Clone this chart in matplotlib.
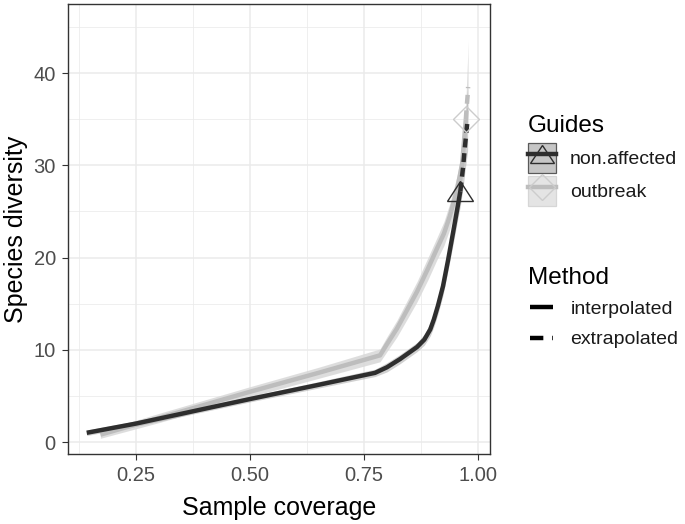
import matplotlib
matplotlib.use("Agg")
import matplotlib.pyplot as plt
from matplotlib.lines import Line2D
from matplotlib.patches import Rectangle
from matplotlib.markers import MarkerStyle
from matplotlib.transforms import Affine2D

plt.rcParams['font.family'] = ['Liberation Sans', 'DejaVu Sans']

# ---- data: non.affected ----
na_int_x = [0.142, 0.25, 0.40, 0.50, 0.65, 0.774, 0.80, 0.829, 0.866, 0.882, 0.895, 0.903, 0.912, 0.923, 0.934, 0.945, 0.954, 0.961]
na_int_y = [1.0, 2.0, 3.6, 4.66, 6.2, 7.5, 8.1, 9.0, 10.3, 11.1, 12.2, 13.3, 14.8, 16.9, 19.7, 22.7, 25.2, 27.2]
na_int_lo = [0.7, 1.7, 3.3, 4.35, 5.85, 7.1, 7.6, 8.5, 9.8, 10.5, 11.5, 12.5, 13.9, 15.9, 18.6, 21.4, 23.8, 25.6]
na_int_hi = [1.3, 2.3, 3.9, 4.95, 6.55, 7.9, 8.6, 9.5, 10.8, 11.7, 12.9, 14.1, 15.7, 17.9, 20.8, 24.0, 26.6, 28.8]
na_ext_x = [0.961, 0.967, 0.971, 0.977]
na_ext_y = [27.2, 29.8, 32.0, 35.0]
na_ext_lo = [25.6, 27.6, 29.3, 31.6]
na_ext_hi = [28.8, 32.0, 34.7, 38.4]
na_obs = (0.961, 27.2)

# ---- data: outbreak ----
ob_int_x = [0.172, 0.30, 0.50, 0.65, 0.785, 0.80, 0.822, 0.843, 0.866, 0.89, 0.91, 0.925, 0.938, 0.954, 0.965, 0.973]
ob_int_y = [0.8, 2.6, 5.45, 7.5, 9.4, 10.6, 12.3, 14.2, 16.3, 18.8, 21.0, 22.6, 24.5, 27.4, 30.2, 35.0]
ob_int_lo = [0.4, 2.1, 4.9, 6.9, 8.7, 9.8, 11.4, 13.2, 15.2, 17.6, 19.8, 21.3, 23.1, 25.9, 28.6, 33.2]
ob_int_hi = [1.2, 3.1, 6.0, 8.1, 10.1, 11.4, 13.2, 15.2, 17.4, 20.0, 22.2, 23.9, 25.9, 28.9, 31.8, 36.8]
ob_ext_x = [0.973, 0.975, 0.977, 0.978]
ob_ext_y = [35.0, 36.4, 37.6, 38.5]
ob_ext_lo = [33.2, 33.6, 33.9, 34.0]
ob_ext_hi = [36.8, 39.4, 41.8, 43.6]
ob_obs = (0.973, 35.0)

groups = ["non.affected", "outbreak"]
methods = ["interpolated", "extrapolated"]

dark = "#2e2e2e"
light = "#bdbdbd"
dark_fill = "#9a9a9a"
light_fill = "#d8d8d8"

fig = plt.figure(figsize=(6.85, 5.24), dpi=100)
ax = fig.add_axes([68/685, 70/524, 422/685, 450/524])

# ribbons
ax.fill_between(ob_int_x, ob_int_lo, ob_int_hi, color=light_fill, lw=0, alpha=0.85, zorder=2)
ax.fill_between(ob_ext_x, ob_ext_lo, ob_ext_hi, color=light_fill, lw=0, alpha=0.85, zorder=2)
ax.fill_between(na_int_x, na_int_lo, na_int_hi, color=dark_fill, lw=0, alpha=0.45, zorder=2)
ax.fill_between(na_ext_x, na_ext_lo, na_ext_hi, color=dark_fill, lw=0, alpha=0.45, zorder=2)

# lines
lw = 3.2
ax.plot(ob_int_x, ob_int_y, color=light, lw=lw, solid_capstyle='butt', zorder=3)
ax.plot(ob_ext_x, ob_ext_y, color=light, lw=lw, dashes=(2, 1.5), zorder=3)
ax.plot(na_int_x, na_int_y, color=dark, lw=lw, solid_capstyle='butt', zorder=4)
ax.plot(na_ext_x, na_ext_y, color=dark, lw=lw, dashes=(2, 1.3), zorder=4)

tri = MarkerStyle('^', transform=Affine2D().scale(1.0, 0.8))
ax.plot([na_obs[0]], [na_obs[1]], linestyle='none', marker=tri, ms=18.5,
        mfc='none', mec=dark, mew=1.0, zorder=5)
ax.plot([ob_obs[0]], [ob_obs[1]], linestyle='none', marker='D', ms=12.8,
        mfc='none', mec='#cccccc', mew=1.0, zorder=5)

# axes styling (theme_bw)
ax.set_xlim(0.101, 1.026)
ax.set_ylim(-1.3, 47.5)
ax.set_xticks([0.25, 0.50, 0.75, 1.00])
ax.set_xticklabels(["0.25", "0.50", "0.75", "1.00"])
ax.set_yticks([0, 10, 20, 30, 40])
ax.set_xticks([0.125, 0.375, 0.625, 0.875], minor=True)
ax.set_yticks([5, 15, 25, 35, 45], minor=True)
ax.grid(which='major', color='#ebebeb', lw=1.1, zorder=0)
ax.grid(which='minor', color='#ebebeb', lw=0.55, zorder=0)
ax.set_axisbelow(True)
ax.tick_params(which='major', length=4.3, width=0.8, color='#333333',
               labelsize=14.5, labelcolor='#4d4d4d', pad=4.5)
ax.tick_params(which='minor', length=0)
for s in ax.spines.values():
    s.set_color('#333333')
    s.set_linewidth(1.0)
ax.set_xlabel("Sample coverage", fontsize=18, color='black', labelpad=8)
ax.set_ylabel("Species diversity", fontsize=18, color='black', labelpad=4)

# legend titles
fig.text(528/685, 1 - 132/524, "Guides", fontsize=17.5, ha='left', va='baseline', color='black')
fig.text(528/685, 1 - 284/524, "Method", fontsize=17.5, ha='left', va='baseline', color='black')

# legends
h_na = (Rectangle((0, 0), 1, 1, facecolor='#c6c6c6', edgecolor='#5a5a5a', lw=0.9),
        Line2D([], [], color=dark, lw=lw),
        Line2D([], [], linestyle='none', marker=tri, ms=17, mfc='none', mec=dark, mew=1.0))
h_ob = (Rectangle((0, 0), 1, 1, facecolor='#e4e4e4', edgecolor='#d6d6d6', lw=0.9),
        Line2D([], [], color=light, lw=lw),
        Line2D([], [], linestyle='none', marker='D', ms=13.5, mfc='none', mec='#cccccc', mew=1.0))
leg1 = fig.legend([h_na, h_ob], groups, loc='upper left',
                  bbox_to_anchor=(528/685, 1 - 143/524), frameon=False,
                  fontsize=14, handlelength=1.44, handleheight=2.0,
                  handletextpad=0.72, labelspacing=0.15, borderpad=0, borderaxespad=0)
for t in leg1.get_texts():
    t.set_color('#1a1a1a')

h_int = Line2D([], [], color='black', lw=lw, solid_capstyle='butt')
h_ext = Line2D([], [], color='black', lw=lw, dashes=(3, 2))
leg2 = fig.legend([h_int, h_ext], methods, loc='upper left',
                  bbox_to_anchor=(530/685, 1 - 300/524), frameon=False,
                  fontsize=14, handlelength=1.2,
                  handletextpad=0.87, labelspacing=0.68, borderpad=0, borderaxespad=0)
for t in leg2.get_texts():
    t.set_color('#1a1a1a')

fig.savefig("out.png", dpi=100)
